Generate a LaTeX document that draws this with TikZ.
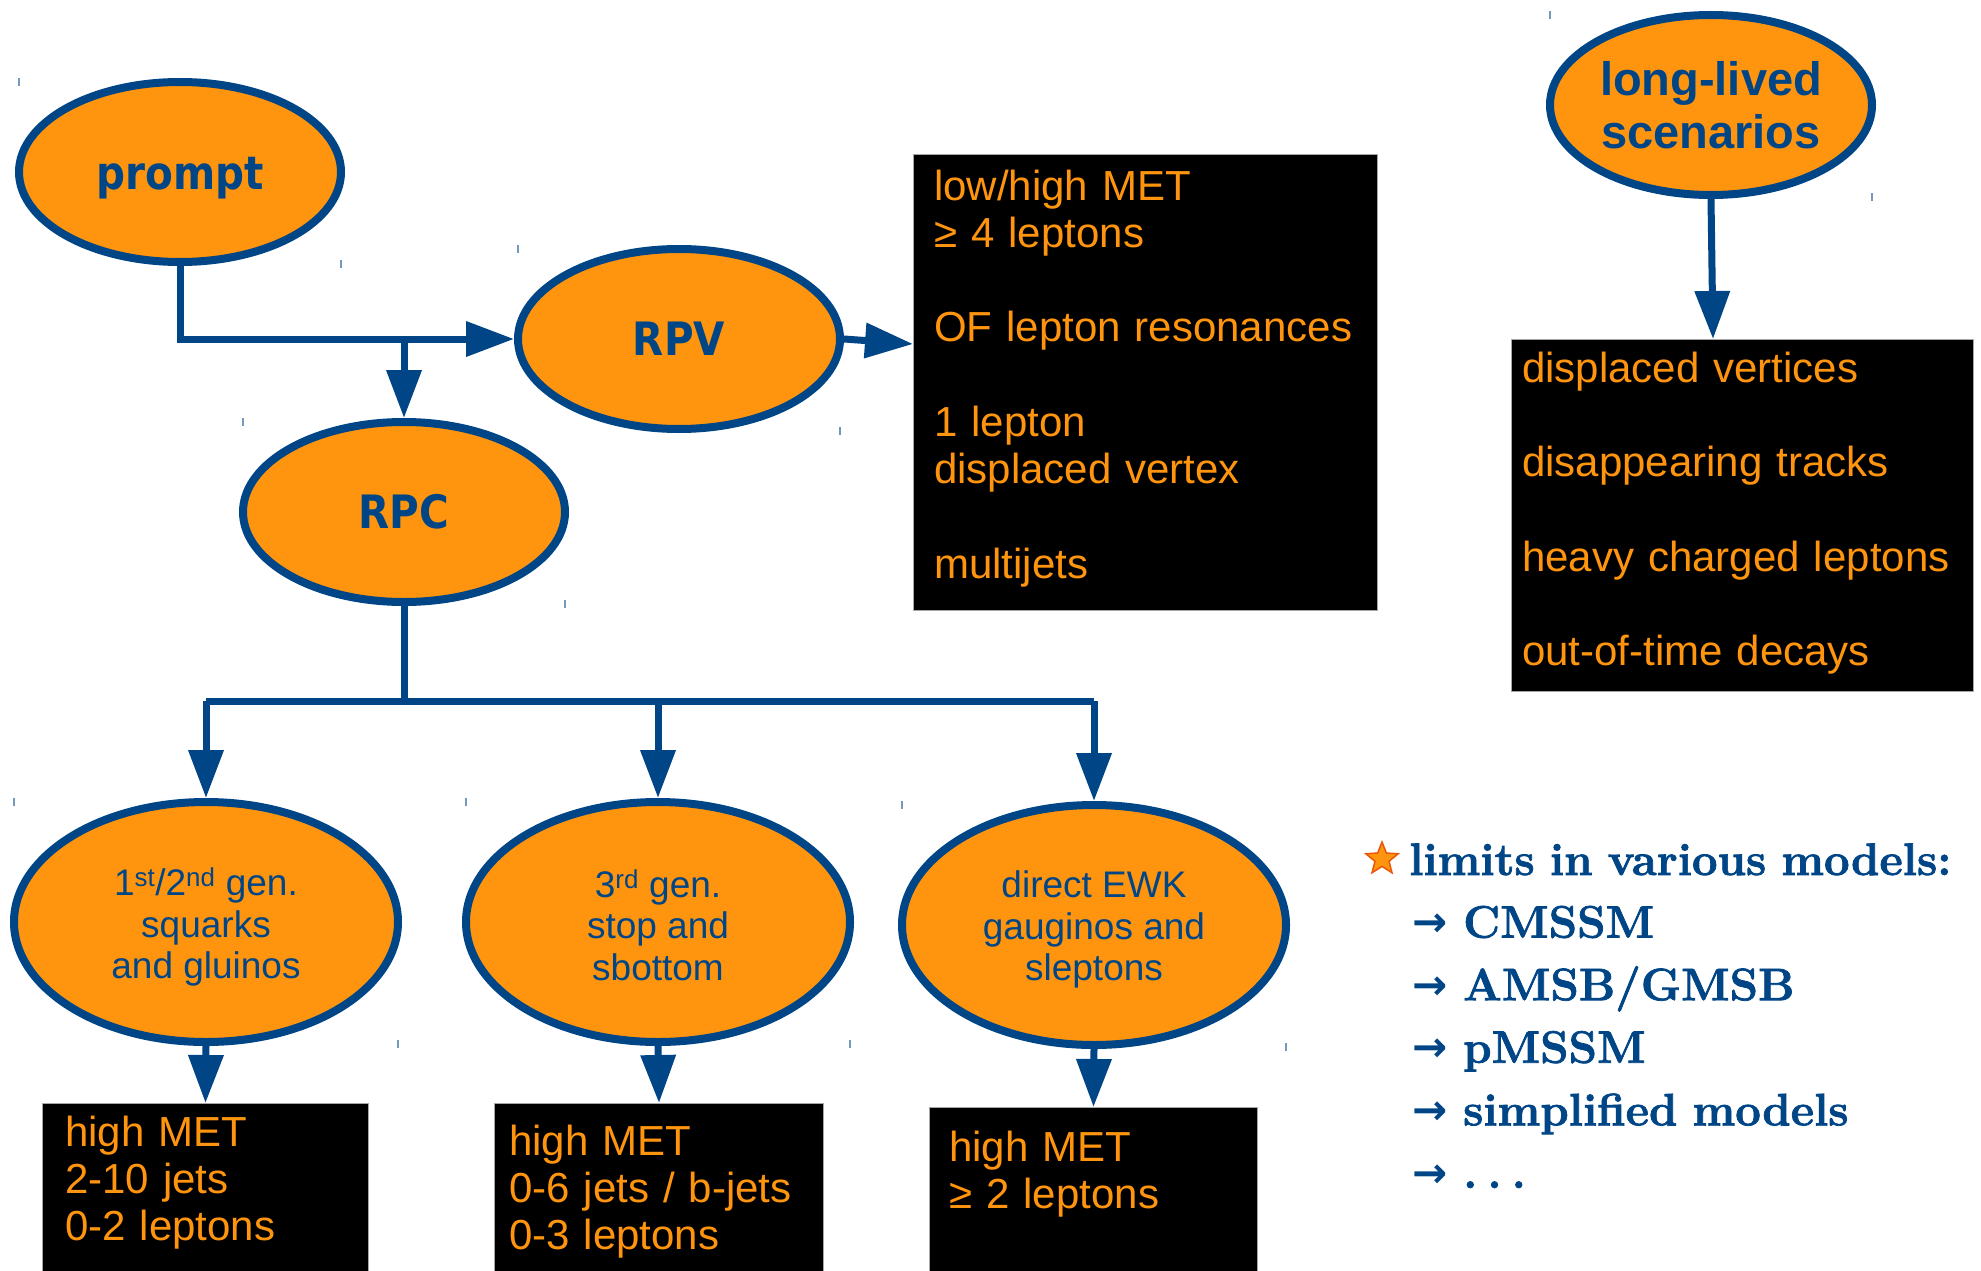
\documentclass[tikz,border=0pt]{standalone}
\usepackage{fontspec}
\usetikzlibrary{arrows.meta,shapes.geometric}
\newfontfamily\arialf{Liberation Sans}
\newfontfamily\djcond{DejaVu Sans}[FakeStretch=0.88]
\newfontfamily\djarrow{DejaVu Sans}
\newfontfamily\limf{Latin Modern Roman}[FakeBold=1.6]
\definecolor{lo}{HTML}{FF950E}
\definecolor{lb}{HTML}{004586}
\definecolor{starline}{HTML}{E8570A}
\newcommand{\limarrow}{\hspace*{3pt}\makebox[51pt][l]{\raisebox{1pt}{\djarrow\bfseries\fontsize{42}{42}\selectfont →}}}
\tikzset{
 ell/.style={ellipse, draw=lb, fill=lo, line width=8pt, inner sep=0pt, align=center, text=lb},
 bigell/.style={ell, minimum width=322pt, minimum height=180pt, font=\djcond\bfseries\fontsize{46}{52}\selectfont},
 genell/.style={ell, minimum width=384pt, minimum height=240pt, font=\arialf\fontsize{37}{41.7}\selectfont},
 blackbox/.style={rectangle, fill=black, draw=gray!70, line width=1pt, inner sep=0pt, anchor=north west},
 boxtext/.style={anchor=base west, inner sep=0pt, text=lo, font=\arialf\fontsize{42}{47.3}\selectfont, text width=#1, align=left},
 conn/.style={draw=lb, line width=7pt},
 arr/.style={conn, -{Triangle[length=48pt,width=34pt]}},
 ticky/.style={draw=lb!55, line width=1.5pt},
}
\begin{document}
\begin{tikzpicture}[x=1pt,y=-1pt]
\useasboundingbox[fill=white] (0,0) rectangle (1981,1271);

% black boxes
\node[blackbox, minimum width=464pt, minimum height=456pt] (box1) at (913,154) {};
\node[blackbox, minimum width=462pt, minimum height=352pt] (box2) at (1511,339) {};
\node[blackbox, minimum width=326pt, minimum height=172pt] (b1) at (42,1103) {};
\node[blackbox, minimum width=329pt, minimum height=172pt] (b2) at (494,1103) {};
\node[blackbox, minimum width=328pt, minimum height=168pt] (b3) at (929,1107) {};

% box texts
\node[boxtext=440pt] (t1) at (934,200) {low/high MET\\≥ 4 leptons\\[47.3pt]OF lepton resonances\\[47.3pt]1 lepton\\displaced vertex\\[47.3pt]multijets};
\node[boxtext=440pt] (t2) at (1522,382) {displaced vertices\\[47.3pt]disappearing tracks\\[47.3pt]heavy charged leptons\\[47.3pt]out-of-time decays};
\node[boxtext=300pt] (tb1) at (65,1146) {high MET\\2-10 jets\\0-2 leptons};
\node[boxtext=300pt] (tb2) at (509,1155) {high MET\\0-6 jets / b-jets\\0-3 leptons};
\node[boxtext=300pt] (tb3) at (949,1161) {high MET\\≥ 2 leptons};

% ellipses
\node[bigell] (prompt) at (180,172) {\rule{0pt}{44pt}prompt};
\node[bigell] (rpv) at (679,339) {RPV};
\node[bigell] (rpc) at (404,512) {RPC};
\node[bigell, font=\arialf\bfseries\fontsize{47}{53}\selectfont] (ll) at (1711,105) {long-lived\\scenarios};
\node[genell] (e1) at (206,922) {\rule{0pt}{38pt}1\textsuperscript{st}/2\textsuperscript{nd} gen.\\squarks\\and gluinos};
\node[genell] (e2) at (658,922) {\rule{0pt}{34pt}3\textsuperscript{rd} gen.\\stop and\\sbottom};
\node[genell] (e3) at (1094,925) {\rule{0pt}{36pt}direct EWK\\gauginos and\\sleptons};

% ticks at ellipse bounding corners
\foreach \e in {prompt,rpv,rpc,ll,e1,e2,e3}{
  \draw[ticky] ([xshift=4pt]\e.west |- \e.north) -- ++(0,8);
  \draw[ticky] ([xshift=-4pt,yshift=6pt]\e.east |- \e.south) -- ++(0,8);
}

% connectors
\draw[arr] (prompt.south) |- (rpv.west);
\coordinate (j1) at (rpc.north |- rpv.west);
\draw[arr] (j1) -- (rpc.north);
\draw[arr] (rpv.east) -- ([yshift=-5pt]rpv.east -| box1.west);
\draw[arr] (ll.south) -- ([xshift=2pt]ll.south |- box2.north);
\coordinate (j2) at (404,701);
\draw[conn] (rpc.south) -- (j2);
\draw[conn, line cap=square] (e1.north |- j2) -- (e3.north |- j2);
\draw[arr] (e1.north |- j2) -- (e1.north);
\draw[arr] (e2.north |- j2) -- (e2.north);
\draw[arr] (e3.north |- j2) -- (e3.north);
\draw[arr] (e1.south) -- (b1.north);
\draw[arr] (e2.south) -- (b2.north);
\draw[arr] (e3.south) -- (b3.north);

% limits
\node[star, star points=5, star point ratio=2.3, minimum size=34pt, inner sep=0pt, draw=starline, line width=1.5pt, fill=lo] (star) at (1382,859) {};
\node[anchor=base west, inner sep=0pt, text=lb, font=\limf\bfseries\fontsize{45.5}{62.6}\selectfont, text width=560pt, align=left] (lim) at (1409,875)
 {limits in various models:\\\limarrow CMSSM\\\limarrow AMSB/GMSB\\\limarrow pMSSM\\\limarrow simplified models\\\limarrow .\hspace{10pt}.\hspace{10pt}.};
\end{tikzpicture}
\end{document}
